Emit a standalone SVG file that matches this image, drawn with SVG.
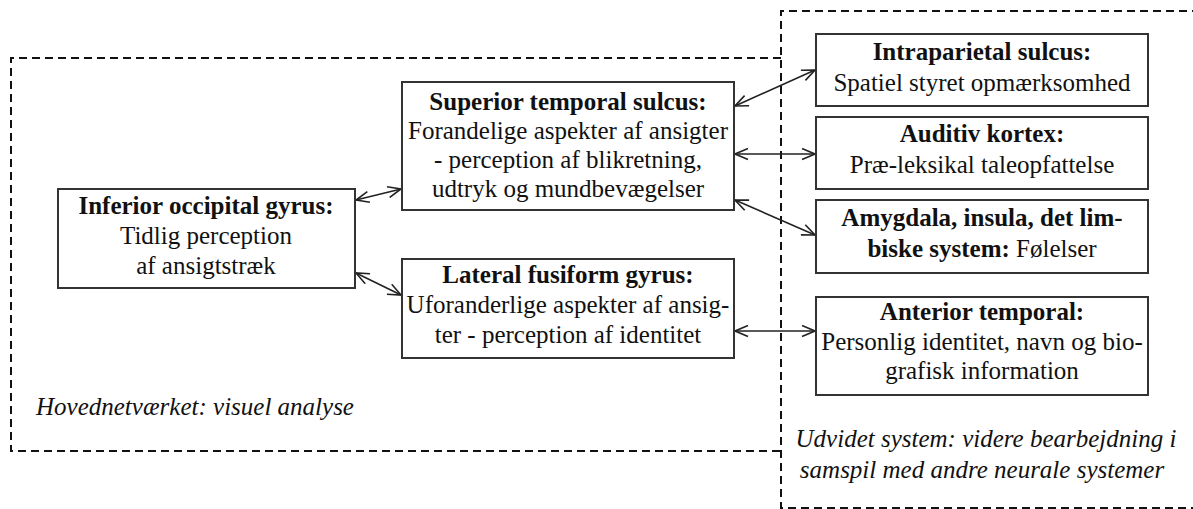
<svg xmlns="http://www.w3.org/2000/svg" width="1193" height="509" viewBox="0 0 1193 509" font-family="'Liberation Serif', 'Times New Roman', Tinos, 'DejaVu Serif', serif">
<style>
.bg{fill:#ffffff}
.region{fill:none;stroke:#111;stroke-width:2;stroke-dasharray:8 5}
.box{fill:#ffffff;stroke:#333;stroke-width:2}
.t{font-family:'Liberation Serif','Times New Roman',Tinos,'DejaVu Serif',serif;font-size:25px;fill:#111;text-anchor:middle}
.b{font-weight:bold}
.i{font-style:italic}
.conn{fill:none;stroke:#222;stroke-width:1.6;marker-start:url(#ah);marker-end:url(#ah)}
</style>
<defs>
<marker id="ah" viewBox="0 0 15 13" refX="14" refY="6.5" markerWidth="15" markerHeight="13" markerUnits="userSpaceOnUse" orient="auto-start-reverse">
<path d="M1,1 L14,6.5 L1,12" fill="none" stroke="#222" stroke-width="1.6"/>
</marker>
</defs>
<rect class="bg" x="0" y="0" width="1193" height="509"/>
<g id="region-main">
<path class="region" d="M781,58 L11,58 L11,451 L781,451"/>
<text class="t i" x="195" y="415">Hovednetværket: visuel analyse</text>
</g>
<g id="region-extended">
<path class="region" d="M1200,11 L781,11 L781,508 L1200,508"/>
<text class="t i" x="986" y="447">Udvidet system: videre bearbejdning i</text>
<text class="t i" x="982" y="478">samspil med andre neurale systemer</text>
</g>
<g id="connectors">
<line class="conn" x1="356" y1="200" x2="401" y2="189"/>
<line class="conn" x1="356" y1="273" x2="401" y2="295"/>
<line class="conn" x1="735" y1="106" x2="815" y2="70"/>
<line class="conn" x1="735" y1="154" x2="815" y2="154"/>
<line class="conn" x1="735" y1="200" x2="815" y2="235"/>
<line class="conn" x1="735" y1="331" x2="815" y2="331"/>
</g>
<g id="node-iog">
<rect class="box" x="58" y="189" width="297" height="99"/>
<text class="t b" x="206" y="214">Inferior occipital gyrus:</text>
<text class="t" x="206" y="244">Tidlig perception</text>
<text class="t" x="206" y="274">af ansigtstræk</text>
</g>
<g id="node-sts">
<rect class="box" x="402" y="82" width="332" height="128"/>
<text class="t b" x="568" y="110">Superior temporal sulcus:</text>
<text class="t" x="568" y="139">Forandelige aspekter af ansigter</text>
<text class="t" x="568" y="168">- perception af blikretning,</text>
<text class="t" x="568" y="197">udtryk og mundbevægelser</text>
</g>
<g id="node-lfg">
<rect class="box" x="402" y="259" width="332" height="99"/>
<text class="t b" x="568" y="283">Lateral fusiform gyrus:</text>
<text class="t" x="568" y="313">Uforanderlige aspekter af ansig-</text>
<text class="t" x="568" y="343">ter - perception af identitet</text>
</g>
<g id="node-ips">
<rect class="box" x="816" y="34" width="332" height="72"/>
<text class="t b" x="982" y="60">Intraparietal sulcus:</text>
<text class="t" x="982" y="91">Spatiel styret opmærksomhed</text>
</g>
<g id="node-aud">
<rect class="box" x="816" y="117" width="332" height="72"/>
<text class="t b" x="982" y="142">Auditiv kortex:</text>
<text class="t" x="982" y="173">Præ-leksikal taleopfattelse</text>
</g>
<g id="node-amy">
<rect class="box" x="816" y="200" width="332" height="73"/>
<text class="t b" x="982" y="226">Amygdala, insula, det lim-</text>
<text class="t" x="982" y="257"><tspan class="b">biske system:</tspan> Følelser</text>
</g>
<g id="node-ant">
<rect class="box" x="816" y="297" width="332" height="98"/>
<text class="t b" x="982" y="320">Anterior temporal:</text>
<text class="t" x="982" y="350">Personlig identitet, navn og bio-</text>
<text class="t" x="982" y="379">grafisk information</text>
</g>
</svg>
